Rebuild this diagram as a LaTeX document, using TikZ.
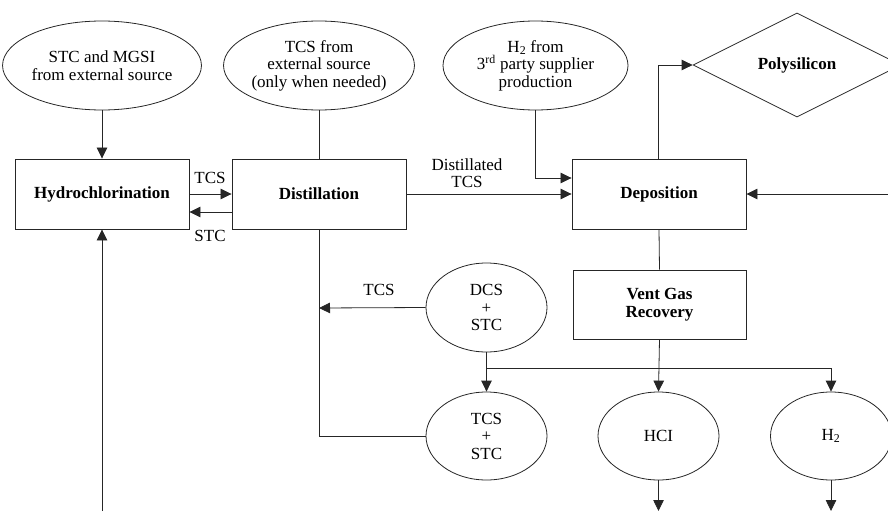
\documentclass[tikz,border=0pt]{standalone}
\usepackage{fontspec}
\setmainfont{Liberation Serif}
\usetikzlibrary{shapes.geometric,arrows.meta}
\begin{document}
\begin{tikzpicture}[x=1pt,y=-1pt,
  every node/.style={font=\fontsize{17}{17.5}\selectfont, align=center, inner sep=0pt},
  oval/.style={draw=black!85, line width=0.8pt, ellipse},
  bigoval/.style={oval, minimum width=186pt, minimum height=89pt},
  smalloval/.style={oval, minimum width=121pt, minimum height=88pt},
  procbox/.style={draw=black!85, line width=0.9pt, rectangle, minimum width=174pt, minimum height=70pt, font=\fontsize{17}{17.5}\selectfont\bfseries},
  conn/.style={draw=black!85, line width=0.8pt},
  arr/.style={conn, -{Triangle[length=11pt,width=10.5pt]}},
  lbl/.style={font=\fontsize{17}{17.5}\selectfont}
]
\useasboundingbox (0,0) rectangle (888,511);

% source ellipses
\node[bigoval] (stc) at (102,65.5) {STC and MGSI\\from external source};
\node[bigoval] (tcsx) at (319,65.5) {TCS from\\external source\\(only when needed)};
\node[bigoval, minimum width=185pt] (hsrc) at (535.5,65.5) {H\textsubscript{2} from\\3\textsuperscript{rd} party supplier\\production};

% process boxes
\node[procbox] (hyd) at (102,194) {Hydrochlorination};
\node[procbox] (dist) at (319,194) {Distillation};
\node[procbox] (dep) at (659,194) {Deposition};
\node[procbox, minimum width=173pt, minimum height=69pt] (vent) at (659.5,304.5) {Vent Gas\\Recovery};

% product diamond
\node[draw=black!85, line width=0.8pt, diamond, minimum width=208pt, minimum height=104pt, font=\fontsize{17}{17.5}\selectfont\bfseries] (poly) at (797,65) {Polysilicon};

% lower ellipses
\node[smalloval, minimum height=89pt] (dcs) at (486.5,307.5) {DCS\\+\\STC};
\node[smalloval] (tcss) at (486.5,436) {TCS\\+\\STC};
\node[smalloval] (hcl) at (658.5,436) {HCI};
\node[smalloval] (hyb) at (831,436) {H\textsubscript{2}};

% helper coordinates
\coordinate (hydin) at (102,511);
\coordinate (depin) at (888,194);
\coordinate (tap) at (319,308);
\coordinate (junc) at (486.5,368);
\coordinate (hclout) at (658.5,511);
\coordinate (hybout) at (831,511);

% connectors
\draw[arr] (stc.south) -- (hyd.north);
\draw[conn] (tcsx.south) -- (dist.north);
\draw[arr] (hyd.east) -- (dist.west);
\draw[arr] ([yshift=-18pt]dist.west) -- ([yshift=-18pt]hyd.east);
\node[lbl] (ltcs) at (210,177.5) {TCS};
\node[lbl] (lstc) at (210,235.5) {STC};

\draw[arr] (hsrc.south) |- ([yshift=16pt]dep.west);
\draw[arr] (dist.east) -- (dep.west);
\node[lbl] (ldist) at (467,173) {Distillated\\TCS};

\draw[arr] ([xshift=-0.5pt]dep.north) |- (poly.west);
\draw[arr] (depin) -- (dep.east);
\draw[conn] (dep.south) -- (vent.north);

\draw[arr] (hydin) -- (hyd.south);
\draw[conn] (dist.south) |- (tcss.west);
\draw[arr] (dcs.west) -- (tap);
\node[lbl] (ltcs2) at (379,290) {TCS};

\draw[conn] (dcs.south) -- (junc);
\draw[arr] (junc) -- (tcss.north);
\draw[arr] (junc) -| (hyb.north);
\draw[arr] (vent.south) -- (hcl.north);
\draw[arr] (hcl.south) -- (hclout);
\draw[arr] (hyb.south) -- (hybout);
\end{tikzpicture}
\end{document}
